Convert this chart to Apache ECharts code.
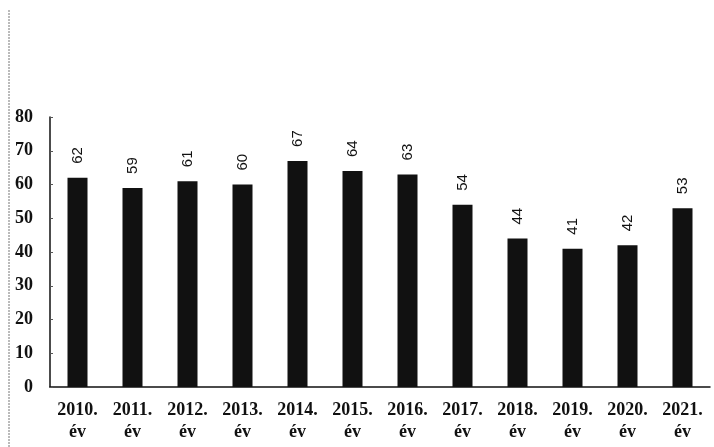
<!DOCTYPE html>
<html>
<head>
<meta charset="utf-8">
<script src="https://cdn.jsdelivr.net/npm/echarts@6/dist/echarts.min.js"></script>
<style>
  html, body { margin: 0; padding: 0; background: #fff; }
  #chart { width: 714px; height: 447px; }
</style>
</head>
<body>
<div id="chart"></div>
<script>
// data
var years = ['2010.', '2011.', '2012.', '2013.', '2014.', '2015.', '2016.', '2017.', '2018.', '2019.', '2020.', '2021.'];
var values = [62, 59, 61, 60, 67, 64, 63, 54, 44, 41, 42, 53];
var yTicks = [0, 10, 20, 30, 40, 50, 60, 70, 80];

var chart = echarts.init(document.getElementById('chart'));

var option = {
  backgroundColor: '#fff',
  animation: false,
  grid: {
    left: 50,
    right: 4,
    top: 117,
    bottom: 60
  },
  xAxis: {
    type: 'category',
    data: years,
    axisLine: { lineStyle: { color: '#111', width: 1.5 } },
    axisTick: { show: false },
    axisLabel: {
      interval: 0,
      hideOverlap: false,
      color: '#111',
      fontFamily: 'Liberation Serif',
      fontWeight: 'bold',
      fontSize: 18,
      lineHeight: 22,
      margin: 12,
      formatter: function(v) {
        return v + '\név';
      }
    }
  },
  yAxis: {
    type: 'value',
    min: yTicks[0],
    max: yTicks[yTicks.length - 1],
    interval: 10,
    splitLine: { show: false },
    axisLine: { show: true, lineStyle: { color: '#111', width: 1.5 } },
    axisTick: { show: true, inside: true, length: 3, lineStyle: { color: '#555' } },
    axisLabel: {
      color: '#111',
      fontFamily: 'Liberation Serif',
      fontWeight: 'bold',
      fontSize: 18,
      margin: 17
    }
  },
  series: [{
    type: 'bar',
    data: values,
    barWidth: 20,
    itemStyle: { color: '#111' },
    label: {
      show: true,
      position: 'top',
      rotate: 90,
      align: 'left',
      verticalAlign: 'middle',
      distance: 14,
      color: '#111',
      fontFamily: 'Liberation Sans',
      fontSize: 15
    }
  }],
  // faint scan edge on the left
  graphic: [{
    type: 'line',
    shape: { x1: 9, y1: 10, x2: 9, y2: 447 },
    style: { stroke: '#777', lineWidth: 1, lineDash: [2, 1] }
  }]
};

chart.setOption(option);
</script>
</body>
</html>
